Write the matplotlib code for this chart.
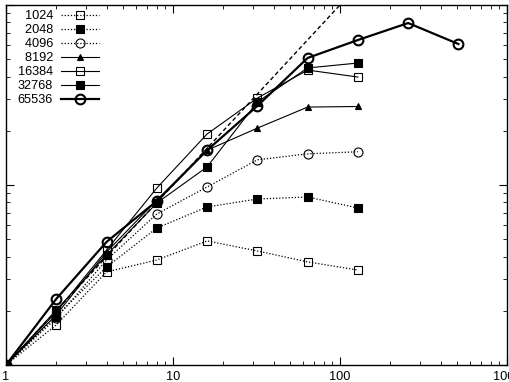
import numpy as np
import matplotlib
matplotlib.use('Agg')
import matplotlib.pyplot as plt

plt.rcParams['font.family'] = ['Liberation Sans', 'DejaVu Sans']

procs = [1, 2, 4, 8, 16, 32, 64, 128]
procs_long = [1, 2, 4, 8, 16, 32, 64, 128, 256, 512]

s_1024 = [1, 1.67, 3.29, 3.83, 4.89, 4.30, 3.74, 3.37]
s_2048 = [1, 1.87, 3.50, 5.77, 7.55, 8.36, 8.58, 7.45]
s_4096 = [1, 1.82, 3.83, 6.90, 9.75, 13.8, 14.9, 15.3]
s_8192 = [1, 1.90, 4.24, 8.25, 15.6, 20.7, 27.1, 27.3]
s_16384 = [1, 1.97, 4.35, 9.62, 19.2, 30.4, 43.5, 39.8]
s_32768 = [1, 2.02, 4.08, 7.94, 12.6, 28.9, 44.7, 47.6]
s_65536 = [1, 2.33, 4.83, 8.15, 15.6, 27.5, 50.8, 63.9, 79.4, 60.7]

ideal = [1, 1000]

fig = plt.figure(figsize=(5.09, 3.82), dpi=100)
ax = fig.add_axes([6/509, 17/382, 501/509, 360/382])

dot = dict(color='black', linestyle=(0, (1, 1.5)), linewidth=0.9, markeredgewidth=0.8)
thin = dict(color='black', linestyle='-', linewidth=0.8, markeredgewidth=0.8)

# two plain spaces = one digit width in Liberation Sans, to right-align the keys
ax.plot(procs, s_1024, marker='s', markersize=6.3, markerfacecolor='none', label='  1024', **dot)
ax.plot(procs, s_2048, marker='s', markersize=6.3, markerfacecolor='black', label='  2048', **dot)
ax.plot(procs, s_4096, marker='o', markersize=6.5, markerfacecolor='none', label='  4096', **dot)
ax.plot(procs, s_8192, marker='^', markersize=5, markerfacecolor='black', label='  8192', **thin)
ax.plot(procs, s_16384, marker='s', markersize=6.3, markerfacecolor='none', label='16384', **thin)
ax.plot(procs, s_32768, marker='s', markersize=6.3, markerfacecolor='black', label='32768', **thin)
ax.plot(procs_long, s_65536, color='black', linewidth=1.6, marker='o', markersize=7,
        markerfacecolor='none', markeredgewidth=1.5, label='65536')
ax.plot(ideal, ideal, color='black', linestyle=(0, (3, 2)), linewidth=1.0)

ax.set_xscale('log')
ax.set_yscale('log')
ax.set_xlim(1, 1000)
ax.set_ylim(1, 100)
ax.set_xticks([1, 10, 100, 1000])
ax.set_xticklabels(['1', '10', '100', '1000'])
ax.set_yticklabels([], minor=True)
ax.set_yticklabels([])
ax.tick_params(which='both', direction='in', top=True, right=True, labelsize=9.2, pad=4)
ax.tick_params(which='major', length=6, width=0.8)
ax.tick_params(which='minor', length=3, width=0.6)
for sp in ax.spines.values():
    sp.set_linewidth(1.0)

leg = ax.legend(loc='upper left', bbox_to_anchor=(0.013, 1.0), frameon=False,
                markerfirst=False, fontsize=9.2, handlelength=3.0, labelspacing=0.16,
                handletextpad=0.6, borderaxespad=0.2, borderpad=0.2)

fig.savefig('out.png', dpi=100)
